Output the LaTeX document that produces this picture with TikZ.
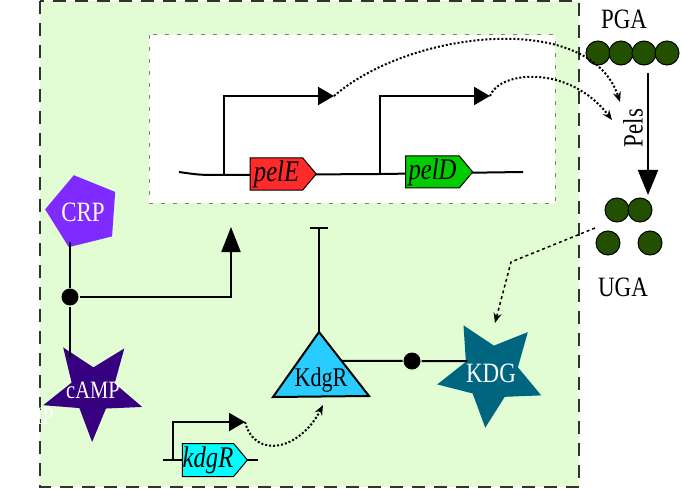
\documentclass[tikz,border=0pt]{standalone}
\usepackage{fontspec}
\setmainfont{Liberation Serif}[FakeStretch=0.82]
\usepackage{tikz}
\usetikzlibrary{arrows.meta,shapes.geometric,shapes.symbols}
\usetikzlibrary{positioning,calc}
\definecolor{cellbg}{RGB}{226,252,212}
\definecolor{edgegray}{RGB}{50,50,50}
\definecolor{crpcol}{RGB}{127,42,255}
\definecolor{campcol}{RGB}{55,0,128}
\definecolor{kdgrcol}{RGB}{42,204,255}
\definecolor{kdgcol}{RGB}{0,102,128}
\definecolor{pelecol}{RGB}{255,42,42}
\definecolor{peldcol}{RGB}{0,204,0}
\definecolor{genecyan}{RGB}{0,255,255}
\definecolor{sugar}{RGB}{34,80,0}

\begin{document}
\begin{tikzpicture} [x=1pt, y=-1pt, line width=2pt, every node/.style = {inner sep=0pt, font=\fontsize{28}{28}\selectfont}]
        \tikzstyle{gene}=[shape=signal, signal to=east, signal pointer angle=100, draw, line width=1pt, minimum height=32pt, font=\fontsize{30}{30}\selectfont\itshape]
        \tikzstyle{promoter}=[-{Triangle[length=16pt,width=18pt]}]
        \tikzstyle{complex}=[circle, fill=black, minimum size=17pt]
        \tikzstyle{monomer}=[circle, draw, line width=1pt, fill=sugar, minimum size=24pt]
        \tikzstyle{flux}=[line width=2pt, dotted, -{Stealth[length=10pt,width=8pt]}]
        \useasboundingbox (0,0) rectangle (682,489);
        \draw[fill=cellbg, draw=edgegray, dash pattern=on 13pt off 9pt] (40,1) rectangle (579,487);
        \draw[fill=white, draw=gray, line width=1pt, dash pattern=on 4pt off 8pt] (149,35) rectangle (555,203);

        \coordinate (dnaL) at (179,172);
        \coordinate (dnaR) at (523,172);
        \coordinate (pelEtss) at (224,175);
        \coordinate (pelDtss) at (380,174);
        \coordinate (pelEtip) at (334,96);
        \coordinate (pelDtip) at (490,96);
        \draw (dnaL) .. controls (200,175) .. (pelEtss) -- (pelDtss) -- (dnaR);
        \draw[promoter] (pelEtss) |- (pelEtip);
        \draw[promoter] (pelDtss) |- (pelDtip);
        \node[gene, fill=pelecol, minimum width=66pt] (pelE) at (276.5,174) {pelE};
        \node[gene, fill=peldcol, minimum width=67pt] (pelD) at (432.5,172) {pelD};

        \coordinate (kdgRtss) at (173,460);
        \coordinate (kdgRtip) at (245,422);
        \draw (163,460) -- (258,460);
        \draw[promoter] (kdgRtss) |- (kdgRtip);
        \node[gene, fill=genecyan, minimum width=65pt, minimum height=33pt] (kdgRgene) at (208,460) {kdgR};

        \node[regular polygon, regular polygon sides=5, minimum size=72pt, shape border rotate=14, fill=crpcol, text=white] (crp) at (83,212) {CRP};
        \node[star, star points=5, star point ratio=2.3, minimum size=104pt, shape border rotate=-37, fill=campcol,
              label={[text=white, font=\fontsize{25}{25}\selectfont]center:cAMP}] (camp) at (93,390) {};
        \node[text=white, font=\fontsize{25}{25}\selectfont] (campghost) at (27,416) {cAMP};
        \coordinate (crpfoot) at (70,242);
        \coordinate (campfoot) at (70,358);
        \coordinate (act) at (231,227);
        \node[complex] (bind1) at (70,297) {};
        \draw (crpfoot) -- (bind1) -- (campfoot);
        \draw[-{Triangle[length=25pt,width=19pt]}] (bind1) -| (act);

        \coordinate (ktop) at (319,332);
        \coordinate (kleft) at (273,397);
        \coordinate (kright) at (369,396);
        \coordinate (block) at (319,227);
        \draw[fill=kdgrcol] (ktop) -- (kleft) -- (kright) -- cycle;
        \node[font=\fontsize{27}{27}\selectfont] (kdgr) at (321,380) {KdgR};
        \draw[-{Bar[width=18pt]}] (ktop) -- (block);

        \node[star, star points=5, star point ratio=2, minimum size=110pt, shape border rotate=-42, fill=kdgcol,
              label={[text=white]center:KDG}] (kdg) at (491,373) {};
        \coordinate (kside) at ($(ktop)!0.45!(kright)$);
        \coordinate (kdgin) at (467,361);
        \node[complex] (bind2) at (412,361) {};
        \draw (kside) -- (bind2) -- (kdgin);

        \node (pga) at (624,19) {PGA};
        \foreach \i/\x in {1/598,2/621,3/644,4/667}
            \node[monomer] (pga\i) at (\x,53) {};
        \node[monomer] (uga1) at (617,210) {};
        \node[monomer] (uga2) at (640,210) {};
        \node[monomer] (uga3) at (608,243) {};
        \node[monomer] (uga4) at (650,243) {};
        \node (uga) at (623,287) {UGA};
        \coordinate (pgaout) at (648,73);
        \coordinate (ugain) at (648,195);
        \draw[-{Triangle[length=25pt,width=20pt]}] (pgaout) -- (ugain);
        \node[rotate=90] (pels) at (633,128) {Pels};

        \coordinate (pelsa) at (620,102);
        \coordinate (pelsb) at (612,120);
        \coordinate (kdgrin) at (323,405);
        \coordinate (ugaout) at (595,228);
        \draw[flux] (pelEtip) .. controls (410,30) and (590,10) .. (pelsa);
        \draw[flux] (pelDtip) .. controls (500,70) and (570,65) .. (pelsb);
        \draw[flux] (kdgRtip) .. controls (255,460) and (300,450) .. (kdgrin);
        \draw[line width=1.5pt, dashed, -{Stealth[length=10pt,width=8pt]}] (ugaout) -- (511,262) -- (495,323);
\end{tikzpicture}
\end{document}
